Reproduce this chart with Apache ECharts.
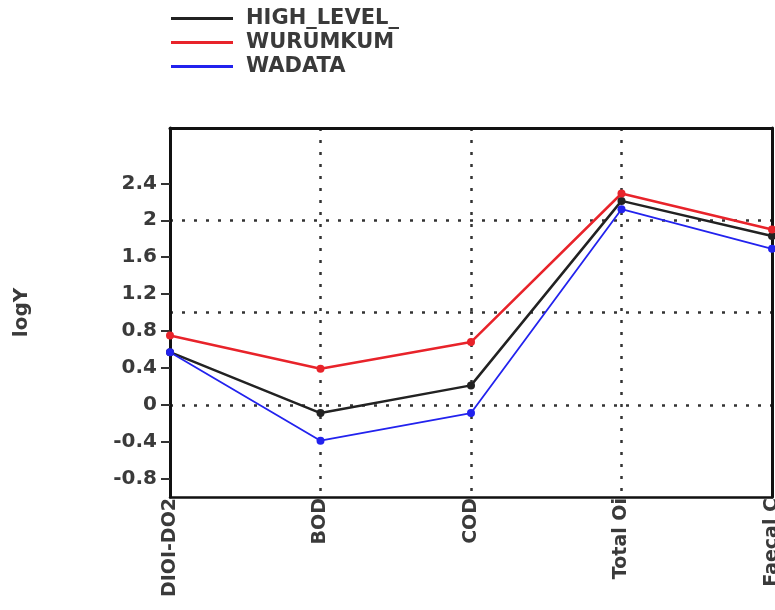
<!DOCTYPE html>
<html>
<head>
<meta charset="utf-8">
<script src="https://cdn.jsdelivr.net/npm/echarts@6/dist/echarts.min.js"></script>
<style>html,body{margin:0;padding:0;background:#fff;}#c{width:775px;height:610px;}</style>
</head>
<body>
<div id="c"></div>
<script>
const categories = ["DIOI-DO2", "BOD", "COD", "Total Oi", "Faecal C"];
const seriesNames = ["HIGH_LEVEL_", "WURUMKUM", "WADATA"];
const highLevel = [0.57, -0.09, 0.21, 2.21, 1.83];
const wurumkum = [0.75, 0.39, 0.68, 2.29, 1.90];
const wadata = [0.57, -0.39, -0.09, 2.12, 1.69];
const yTickLabels = [-0.8, -0.4, 0, 0.4, 0.8, 1.2, 1.6, 2, 2.4];

const FONT = 'DejaVu Sans';
const chart = echarts.init(document.getElementById('c'));
const dots = {type: [3, 9], color: '#333', width: 2.5};
const frame = {color: '#111', width: 3};
chart.setOption({
  animation: false,
  backgroundColor: '#fff',
  textStyle: {fontFamily: FONT},
  legend: {
    orient: 'vertical', left: 166, top: 3, itemWidth: 62, itemHeight: 3, itemGap: 3,
    icon: 'rect',
    data: seriesNames,
    textStyle: {fontSize: 21, fontWeight: 'bold', color: '#3a3a3a', fontFamily: FONT, padding: [0, 0, 0, 8]}
  },
  grid: {left: 170, right: 3, top: 128, bottom: 113, outerBoundsMode: 'none', containLabel: false, show: false},
  xAxis: [{
    type: 'category', data: categories, boundaryGap: false,
    axisLine: {onZero: false, lineStyle: {color: '#111', width: 2.5}},
    axisTick: {show: false},
    splitLine: {show: true, interval: 0, showMinLine: false, showMaxLine: false, lineStyle: dots},
    axisLabel: {rotate: 90, fontSize: 19, fontWeight: 'bold', color: '#3a3a3a', margin: 1, interval: 0, fontFamily: FONT}
  }, {
    type: 'category', data: categories, boundaryGap: false, position: 'top',
    axisLine: {onZero: false, lineStyle: frame},
    axisTick: {show: false}, axisLabel: {show: false}, splitLine: {show: false}
  }],
  yAxis: [{
    type: 'value', min: -1, max: 3, interval: 1,
    name: 'logY', nameLocation: 'middle', nameGap: 138, nameRotate: 90,
    nameTextStyle: {fontSize: 20, fontWeight: 'bold', color: '#3a3a3a', fontFamily: FONT},
    axisLine: {show: true, onZero: false, lineStyle: frame},
    axisTick: {show: true, length: 9, customValues: yTickLabels, lineStyle: {color: '#333', width: 2}},
    axisLabel: {customValues: yTickLabels, fontSize: 20, fontWeight: 'bold', color: '#3a3a3a', margin: 13, fontFamily: FONT},
    splitLine: {show: false}
  }, {
    type: 'value', min: -1, max: 3, interval: 1, position: 'right',
    axisLine: {show: true, onZero: false, lineStyle: frame}, axisTick: {show: false}, axisLabel: {show: false},
    splitLine: {show: true, showMinLine: false, showMaxLine: false, lineStyle: dots}
  }],
  series: [
    {name: seriesNames[0], type: 'line', data: highLevel, symbol: 'circle', symbolSize: 8,
     lineStyle: {color: '#222', width: 2.5}, itemStyle: {color: '#222'}},
    {name: seriesNames[1], type: 'line', data: wurumkum, symbol: 'circle', symbolSize: 8,
     lineStyle: {color: '#e8232a', width: 2.5}, itemStyle: {color: '#e8232a'}},
    {name: seriesNames[2], type: 'line', data: wadata, symbol: 'circle', symbolSize: 8,
     lineStyle: {color: '#2222ee', width: 1.8}, itemStyle: {color: '#2222ee'}}
  ]
});
</script>
</body>
</html>
